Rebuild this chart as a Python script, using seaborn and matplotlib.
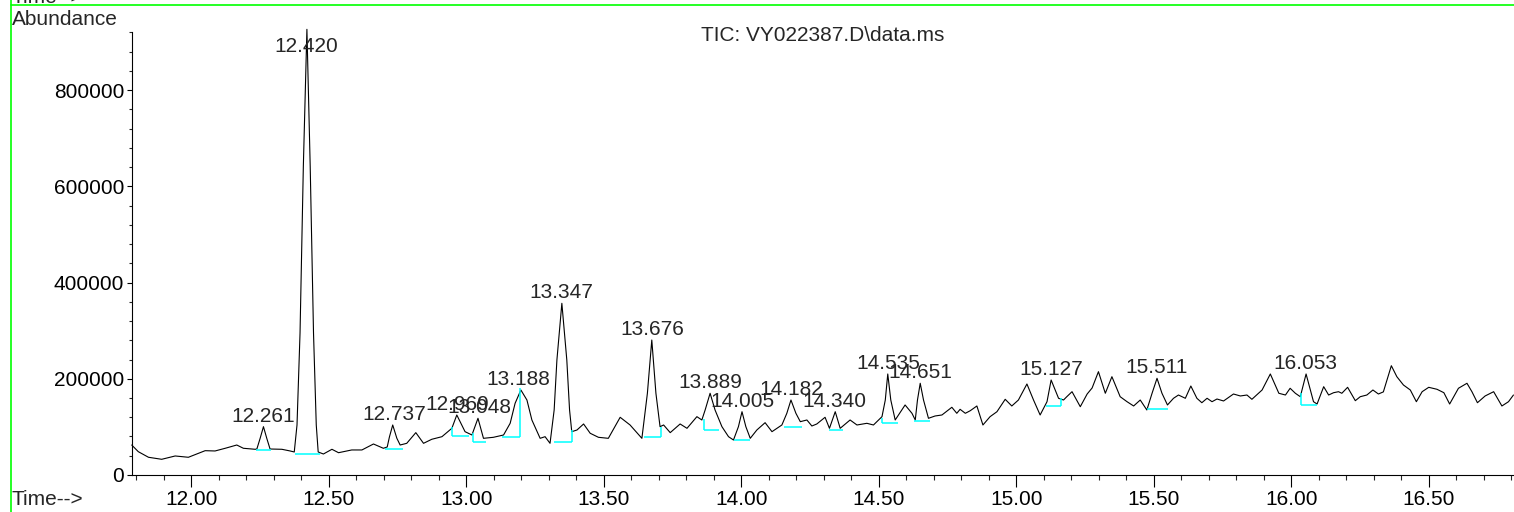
import matplotlib
matplotlib.use("Agg")
import matplotlib.pyplot as plt
from matplotlib.lines import Line2D
from matplotlib.ticker import MultipleLocator, FormatStrFormatter
import pandas as pd
import seaborn as sns

# TIC trace (time in min, abundance in counts)
time_min = [
    11.784, 11.808, 11.845, 11.893, 11.942, 11.990, 12.051, 12.087, 12.124, 12.166,
    12.190, 12.233, 12.239, 12.251, 12.263, 12.275, 12.287, 12.330, 12.360, 12.375,
    12.385, 12.396, 12.408, 12.421, 12.433, 12.445, 12.455, 12.462, 12.481, 12.512,
    12.536, 12.584, 12.621, 12.663, 12.699, 12.713, 12.721, 12.733, 12.748, 12.760,
    12.784, 12.817, 12.845, 12.875, 12.912, 12.948, 12.966, 12.996, 13.021, 13.043,
    13.063, 13.099, 13.136, 13.160, 13.178, 13.199, 13.221, 13.239, 13.269, 13.287,
    13.305, 13.320, 13.330, 13.348, 13.366, 13.376, 13.384, 13.403, 13.427, 13.451,
    13.481, 13.517, 13.560, 13.596, 13.639, 13.659, 13.675, 13.690, 13.705, 13.718,
    13.742, 13.778, 13.803, 13.839, 13.857, 13.869, 13.887, 13.905, 13.930, 13.954,
    13.972, 13.990, 14.003, 14.017, 14.033, 14.057, 14.087, 14.112, 14.130, 14.148,
    14.166, 14.181, 14.199, 14.215, 14.239, 14.257, 14.275, 14.305, 14.321, 14.342,
    14.360, 14.396, 14.421, 14.457, 14.481, 14.512, 14.524, 14.533, 14.544, 14.560,
    14.596, 14.621, 14.633, 14.641, 14.651, 14.663, 14.681, 14.705, 14.730, 14.766,
    14.784, 14.796, 14.815, 14.833, 14.857, 14.879, 14.905, 14.930, 14.960, 14.984,
    15.008, 15.039, 15.063, 15.087, 15.112, 15.127, 15.154, 15.172, 15.184, 15.203,
    15.233, 15.258, 15.276, 15.299, 15.324, 15.348, 15.378, 15.403, 15.427, 15.451,
    15.475, 15.494, 15.512, 15.530, 15.550, 15.572, 15.590, 15.615, 15.635, 15.657,
    15.675, 15.694, 15.712, 15.730, 15.754, 15.790, 15.815, 15.839, 15.857, 15.894,
    15.924, 15.955, 15.979, 15.996, 16.015, 16.033, 16.054, 16.081, 16.094, 16.118,
    16.136, 16.154, 16.172, 16.184, 16.205, 16.233, 16.251, 16.275, 16.297, 16.317,
    16.335, 16.364, 16.384, 16.408, 16.433, 16.455, 16.476, 16.500, 16.530, 16.555,
    16.576, 16.608, 16.639, 16.657, 16.677, 16.705, 16.736, 16.766, 16.790, 16.808,
]
abundance = [
    62300, 48400, 36800, 32600, 39500, 36800, 50500, 49900, 55500, 62300,
    55500, 53400, 54000, 76300, 100400, 76300, 54000, 53400, 49900, 47800,
    103900, 295100, 640700, 926200, 640700, 295100, 103900, 47800, 43600, 53400,
    46300, 52000, 52000, 64400, 55500, 58200, 79000, 103900, 76300, 62300,
    65800, 88000, 65800, 74200, 79600, 97000, 124700, 90000, 83100, 117800,
    76200, 78300, 83100, 107400, 149000, 176600, 155800, 114300, 76200, 79600,
    65800, 135100, 239000, 356800, 239000, 135100, 90000, 93500, 106000, 86700,
    78300, 76200, 119900, 103900, 76200, 169800, 280500, 169800, 100400, 103900,
    88000, 106000, 97000, 121200, 114300, 135100, 169800, 135100, 100400, 79600,
    72700, 100400, 131500, 100400, 76200, 93500, 108700, 90000, 97000, 103900,
    128200, 155800, 128200, 110800, 114300, 101800, 106000, 119900, 97000, 131500,
    97000, 114300, 103900, 107400, 103900, 121200, 155800, 209900, 155800, 114300,
    145500, 128200, 114300, 155800, 190600, 155800, 117800, 122600, 124700, 140700,
    128200, 136500, 128200, 133600, 143400, 103900, 121200, 131500, 157300, 143400,
    155800, 189100, 155800, 124700, 152300, 197400, 159400, 155800, 162700, 173100,
    141900, 168300, 180800, 214700, 169800, 204300, 162700, 152300, 143400, 155800,
    135100, 169800, 200900, 169800, 145500, 159400, 166200, 159400, 184900, 159400,
    150200, 159400, 152300, 157900, 153800, 168300, 164200, 166200, 157300, 176600,
    209900, 169800, 166200, 180200, 169800, 162700, 209900, 152300, 147500, 183500,
    166200, 171000, 173100, 169800, 182200, 154400, 162700, 166200, 176600, 168300,
    172700, 227100, 204300, 187000, 176600, 152300, 173100, 182200, 178100, 171000,
    147500, 180200, 190600, 173100, 150200, 164200, 173100, 143400, 152300, 166200,
]

# integrated peaks: retention time and apex height
peak_rt = [12.261, 12.420, 12.737, 12.969, 13.048, 13.188, 13.347, 13.676, 13.889,
           14.005, 14.182, 14.340, 14.535, 14.651, 15.127, 15.511, 16.053]
peak_top = [100400, 926200, 103900, 124700, 117800, 176600, 356800, 280500, 169800,
            131500, 155800, 131500, 209900, 190600, 197400, 200900, 209900]
label_cap = 868000

# integration baselines (cyan)
base_start = [12.236, 12.376, 12.705, 12.948, 13.024, 13.130, 13.318, 13.645, 13.866,
              13.975, 14.154, 14.320, 14.512, 14.627, 15.109, 15.477, 16.036]
base_end = [12.290, 12.469, 12.772, 13.012, 13.073, 13.194, 13.385, 13.708, 13.918,
            14.031, 14.221, 14.372, 14.570, 14.687, 15.164, 15.553, 16.095]
base_level = [52000, 43600, 54000, 81500, 69200, 79600, 69200, 79600, 93500,
              72700, 99700, 93500, 108700, 112200, 143400, 137100, 145500]
drop_rt = [12.948, 13.024, 13.194, 13.385, 13.708, 13.866, 14.512, 15.164, 16.036]
drop_low = [81500, 69200, 79600, 69200, 79600, 93500, 108700, 143400, 145500]
drop_high = [100400, 86700, 180200, 93500, 100400, 115700, 117800, 159400, 169800]

sns.set_style("ticks")
plt.rcParams['font.family'] = ['Liberation Sans', 'DejaVu Sans']

df = pd.DataFrame({'Time': time_min, 'Abundance': abundance})

fig = plt.figure(figsize=(15.14, 5.12), dpi=100)
ax = fig.add_axes([0.087, 0.0723, 0.913, 0.8646])

sns.lineplot(data=df, x='Time', y='Abundance', color='black', linewidth=0.8,
             estimator=None, ax=ax, clip_on=False)

ax.hlines(base_level, base_start, base_end, colors='#00ffff', linewidth=1.1)
ax.vlines(drop_rt, drop_low, drop_high, colors='#00ffff', linewidth=1.1)

for rt, top in zip(peak_rt, peak_top):
    ax.annotate(f"{rt:.3f}", xy=(rt, min(top, label_cap)), xytext=(0, 3.5),
                textcoords='offset points', ha='center', va='baseline', fontsize=15)

ax.set_xlim(11.784, 16.81)
ax.set_ylim(0, 920000)
ax.xaxis.set_major_locator(MultipleLocator(0.5))
ax.xaxis.set_minor_locator(MultipleLocator(0.1))
ax.xaxis.set_major_formatter(FormatStrFormatter('%.2f'))
ax.yaxis.set_major_locator(MultipleLocator(200000))
ax.yaxis.set_minor_locator(MultipleLocator(40000))
ax.yaxis.set_major_formatter(FormatStrFormatter('%d'))
ax.tick_params(axis='x', which='major', length=8.5, width=0.8, pad=2, labelsize=15, colors='black')
ax.tick_params(axis='x', which='minor', length=3.5, width=0.8)
ax.tick_params(axis='y', which='major', length=3.5, width=0.8, pad=2, labelsize=15, colors='black')
ax.tick_params(axis='y', which='minor', length=2.5, width=0.8)
ax.set_xlabel('')
ax.set_ylabel('')
sns.despine(ax=ax)
for s in ['left', 'bottom']:
    ax.spines[s].set_color('black')
    ax.spines[s].set_linewidth(0.8)

# header texts placed like the instrument printout
fig.text(0.5436, 0.92, 'TIC: VY022387.D\\data.ms', fontsize=15, ha='center', va='baseline')
fig.text(0.0077, 0.951, 'Abundance', fontsize=15, va='baseline')
fig.text(0.0077, 0.0137, 'Time-->', fontsize=15, va='baseline')
fig.text(0.0077, 0.995, 'Time-->', fontsize=15, va='baseline')

# instrument frame lines
fig.add_artist(Line2D([0.00707, 1.0], [0.9896, 0.9896], color='#00ff00', linewidth=1.2))
fig.add_artist(Line2D([0.00707, 0.00707], [0.0, 1.0], color='#00ff00', linewidth=1.2))

plt.savefig("out.png", dpi=100)
